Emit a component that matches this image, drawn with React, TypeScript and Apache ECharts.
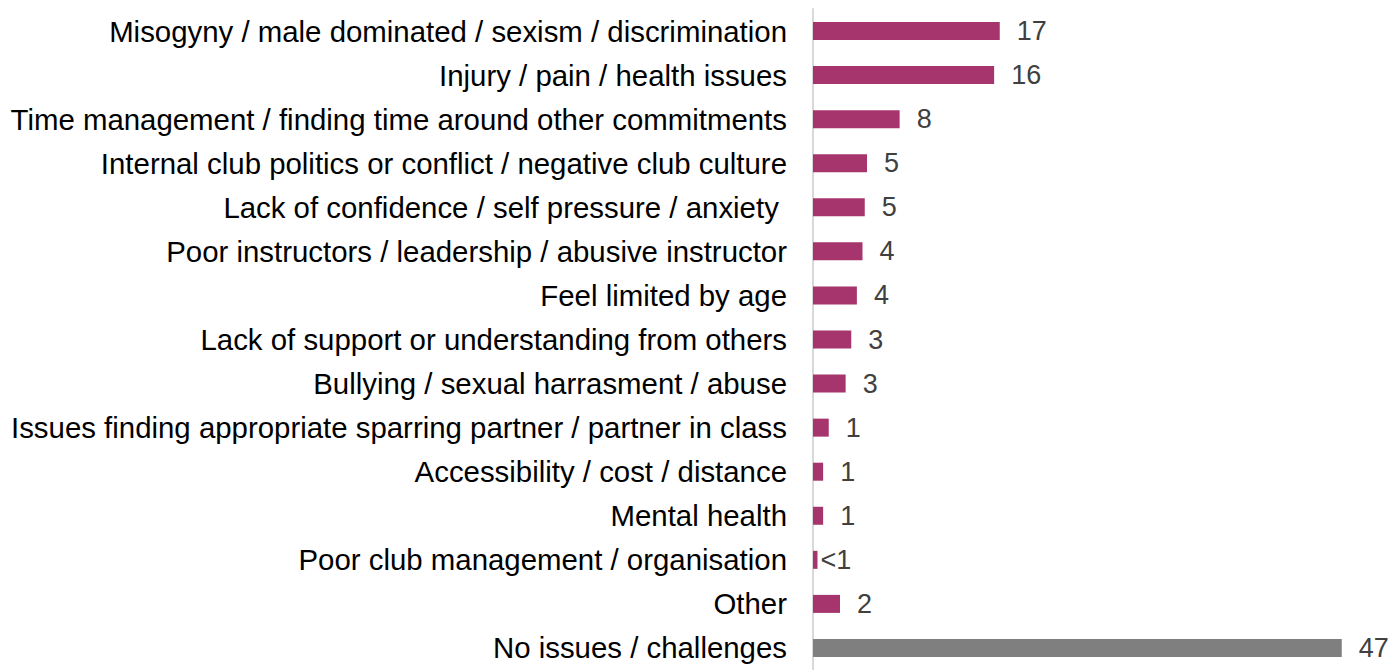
import React, { useEffect, useRef } from "react";
import * as echarts from "echarts";

const categories = [
  "Misogyny / male dominated / sexism / discrimination",
  "Injury / pain / health issues",
  "Time management / finding time around other commitments",
  "Internal club politics or conflict / negative club culture",
  "Lack of confidence / self pressure / anxiety ",
  "Poor instructors / leadership / abusive instructor",
  "Feel limited by age",
  "Lack of support or understanding from others",
  "Bullying / sexual harrasment / abuse",
  "Issues finding appropriate sparring partner / partner in class",
  "Accessibility / cost / distance",
  "Mental health",
  "Poor club management / organisation",
  "Other",
  "No issues / challenges",
];

const values = [16.6, 16.1, 7.7, 4.8, 4.6, 4.4, 3.9, 3.4, 2.9, 1.4, 0.9, 0.9, 0.4, 2.4, 47];
const valueLabels = ["17", "16", "8", "5", "5", "4", "4", "3", "3", "1", "1", "1", "<1", "2", "47"];
const pink = "#A5356C";
const grey = "#7F7F7F";

export default function App() {
  const ref = useRef<HTMLDivElement>(null);
  useEffect(() => {
    if (!ref.current) return;
    const chart = echarts.init(ref.current, undefined, { renderer: "svg" });
    chart.setOption({
      animation: false,
      grid: { left: 813, top: 9, height: 668, width: 562.5, containLabel: false },
      xAxis: {
        type: "value",
        min: 0,
        max: 50,
        show: false,
      },
      yAxis: {
        type: "category",
        inverse: true,
        data: categories,
        axisLine: { show: true, lineStyle: { color: "#D9D9D9", width: 2 } },
        axisTick: { show: false },
        axisLabel: {
          color: "#000000",
          fontFamily: "Liberation Sans, Arial, sans-serif",
          fontSize: 29.4,
          margin: 26,
        },
      },
      series: [
        {
          type: "bar",
          barWidth: 18,
          data: values.map((v, i) => ({
            value: v,
            itemStyle: { color: i === values.length - 1 ? grey : pink },
            label: {
              show: true,
              position: "right",
              distance: valueLabels[i] === "<1" ? 3 : 17,
              formatter: valueLabels[i],
              color: "#404040",
              fontFamily: "Liberation Sans, Arial, sans-serif",
              fontSize: 27,
            },
          })),
        },
      ],
    });
    return () => chart.dispose();
  }, []);
  return (
    <div
      ref={ref}
      style={{ position: "fixed", left: 0, top: 0, width: 1393, height: 670, background: "#fff" }}
    />
  );
}
